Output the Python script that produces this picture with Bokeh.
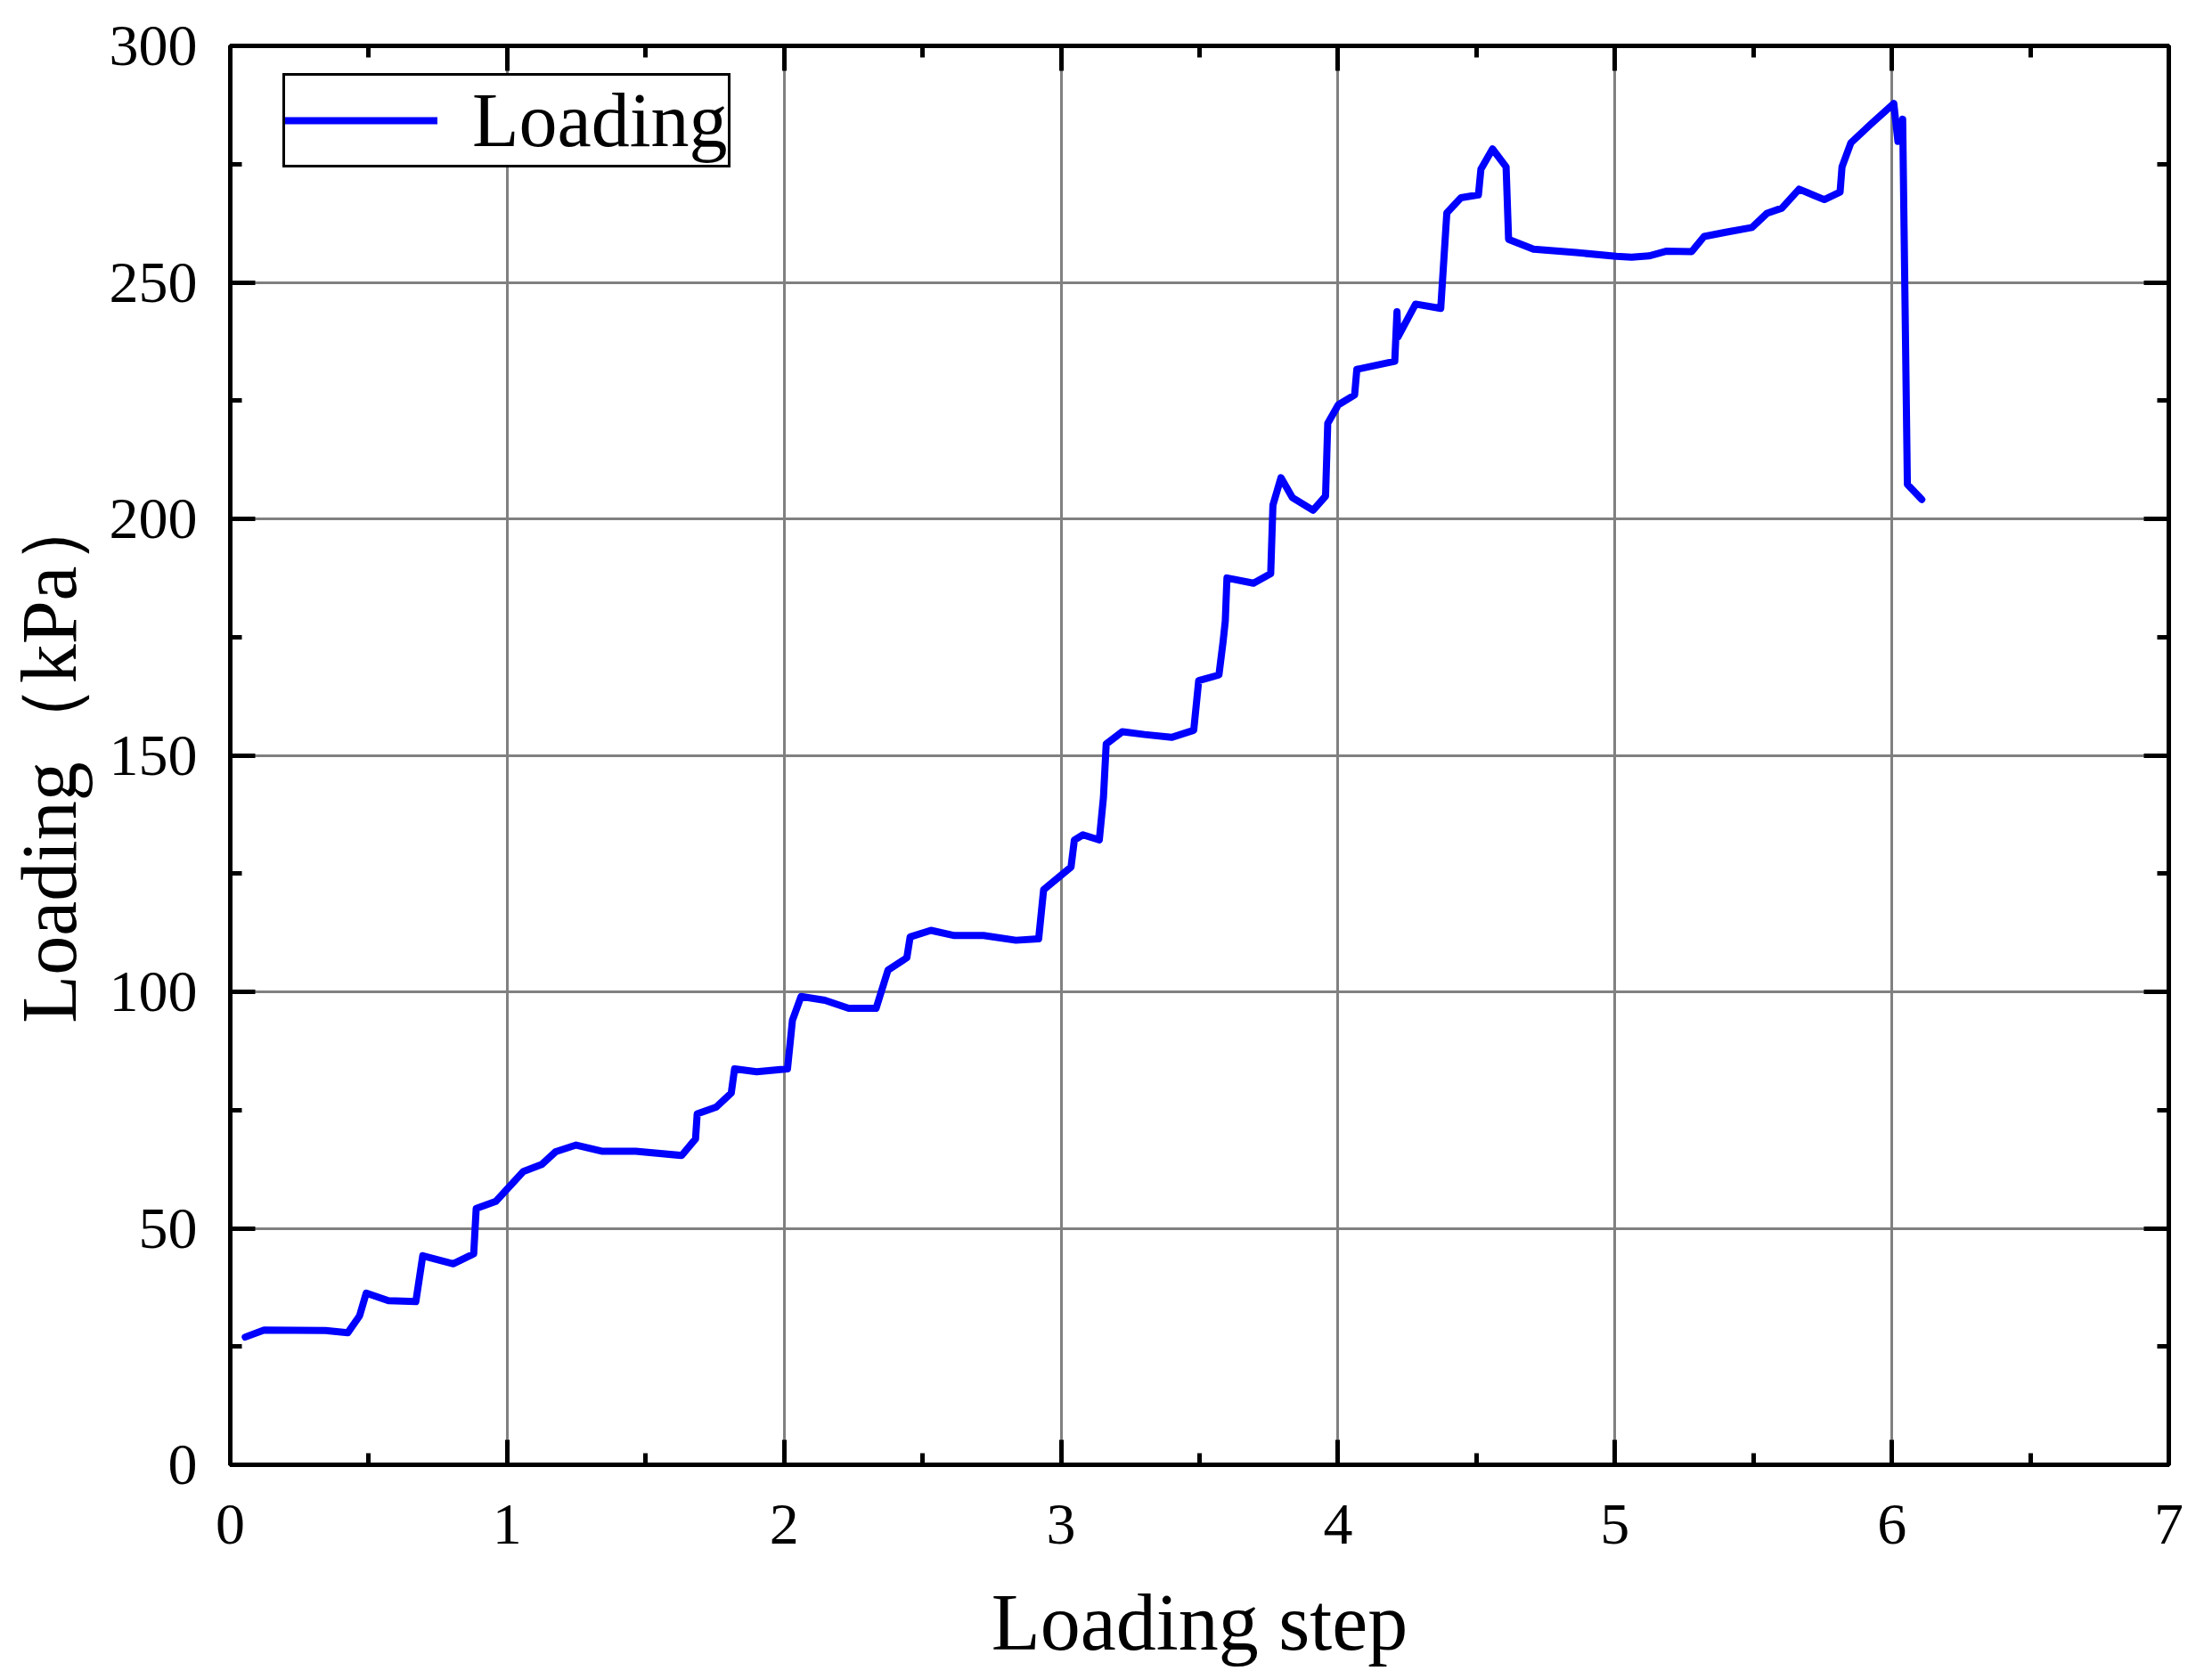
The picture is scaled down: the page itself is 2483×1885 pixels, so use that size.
from bokeh.plotting import figure
from bokeh.models import LinearAxis, FixedTicker, Legend, LegendItem, Range1d
from bokeh.embed import file_html
from bokeh.resources import INLINE

# ---- data ----
step = [0.054, 0.122, 0.344, 0.424, 0.467, 0.491, 0.571, 0.670, 0.695, 0.805,
        0.879, 0.888, 0.959, 1.058, 1.125, 1.175, 1.249, 1.341, 1.464, 1.630,
        1.680, 1.686, 1.754, 1.809, 1.821, 1.901, 2.012, 2.030, 2.061, 2.147,
        2.233, 2.332, 2.375, 2.443, 2.455, 2.530, 2.615, 2.720, 2.837, 2.919,
        2.937, 3.036, 3.048, 3.079, 3.138, 3.153, 3.163, 3.221, 3.301, 3.399,
        3.479, 3.497, 3.570, 3.585, 3.593, 3.599, 3.695, 3.757, 3.765, 3.794,
        3.835, 3.910, 3.955, 3.963, 4.001, 4.060, 4.068, 4.205, 4.213, 4.216,
        4.280, 4.371, 4.393, 4.444, 4.507, 4.516, 4.558, 4.607, 4.616, 4.706,
        4.860, 5.005, 5.060, 5.123, 5.187, 5.277, 5.322, 5.400, 5.495, 5.549,
        5.603, 5.665, 5.756, 5.813, 5.820, 5.852, 5.925, 6.007, 6.022, 6.039,
        6.056, 6.108]
load = [27.0, 28.5, 28.4, 27.9, 31.5, 36.3, 34.7, 34.5, 44.2, 42.5,
        44.6, 54.2, 55.7, 62.0, 63.5, 66.2, 67.6, 66.3, 66.3, 65.4,
        68.9, 74.2, 75.6, 78.6, 83.7, 83.1, 83.7, 94.0, 99.0, 98.2,
        96.5, 96.5, 104.6, 107.2, 111.6, 113.0, 111.9, 111.9, 110.9, 111.2,
        121.6, 126.4, 132.1, 133.2, 132.1, 141.1, 152.4, 155.0, 154.4, 153.8,
        155.3, 165.8, 167.0, 174.0, 178.4, 187.5, 186.4, 188.4, 202.9, 208.7,
        204.5, 201.8, 204.8, 220.2, 224.1, 226.2, 231.6, 233.3, 243.8, 238.4,
        245.4, 244.5, 264.7, 267.9, 268.5, 273.9, 278.2, 274.4, 259.1, 257.0,
        256.3, 255.5, 255.3, 255.6, 256.6, 256.5, 259.7, 260.6, 261.6, 264.6,
        265.7, 269.7, 267.5, 269.1, 274.4, 279.5, 283.5, 287.8, 279.8, 284.5,
        207.3, 204.1]

x_ticks = [0, 1, 2, 3, 4, 5, 6, 7]
y_ticks = [0, 50, 100, 150, 200, 250, 300]
x_minor = [0.5, 1.5, 2.5, 3.5, 4.5, 5.5, 6.5]
y_minor = [25, 75, 125, 175, 225, 275]
series_name = "Loading"
x_title = "Loading step"
y_title = "Loading\uff08kPa\uff09"

FONT = "Liberation Serif"

W, H = 2475, 1877
p = figure(width=W, height=H, output_backend="svg", toolbar_location=None,
           x_range=Range1d(0, 7), y_range=Range1d(0, 300),
           min_border_left=258, min_border_right=W - 2434,
           min_border_top=51, min_border_bottom=H - 1644)
p.background_fill_color = "white"
p.border_fill_color = "white"
p.outline_line_color = "black"
p.outline_line_width = 5

r = p.line(step, load, line_color="#0000FF", line_width=8,
           line_join="round", line_cap="round")

xt = FixedTicker(ticks=x_ticks, minor_ticks=x_minor)
yt = FixedTicker(ticks=y_ticks, minor_ticks=y_minor)

def style_axis(ax, labels=True):
    ax.axis_line_color = "black"
    ax.axis_line_width = 5
    ax.major_tick_line_color = "black"
    ax.major_tick_line_width = 5
    ax.minor_tick_line_color = "black"
    ax.minor_tick_line_width = 5
    ax.major_tick_in = 28
    ax.major_tick_out = 0
    ax.minor_tick_in = 13
    ax.minor_tick_out = 0
    if labels:
        ax.major_label_text_font = FONT
        ax.major_label_text_font_size = "66px"
        ax.major_label_text_color = "black"
        ax.axis_label_text_font = FONT
        ax.axis_label_text_font_size = "88px"
        ax.axis_label_text_font_style = "normal"
        ax.axis_label_text_color = "black"
    else:
        ax.major_label_text_font_size = "0px"
        ax.major_label_standoff = 0

xa = p.xaxis[0]
xa.ticker = xt
style_axis(xa)
xa.axis_label = x_title
xa.axis_label_text_font_size = "90px"
xa.major_label_standoff = 45
xa.axis_label_standoff = 36

ya = p.yaxis[0]
ya.ticker = yt
style_axis(ya)
ya.axis_label = y_title
ya.major_label_standoff = 37
ya.axis_label_standoff = 16

top = LinearAxis(ticker=xt)
style_axis(top, labels=False)
p.add_layout(top, "above")
right = LinearAxis(ticker=yt)
style_axis(right, labels=False)
p.add_layout(right, "right")

p.xgrid.ticker = xt
p.ygrid.ticker = yt
for g in (p.xgrid, p.ygrid):
    g.grid_line_color = "#808080"
    g.grid_line_width = 3

legend = Legend(items=[LegendItem(label=series_name, renderers=[r])],
                location=(59, 1456))
legend.border_line_color = "black"
legend.border_line_width = 3
legend.border_line_alpha = 1
legend.background_fill_color = "white"
legend.background_fill_alpha = 1
legend.padding = 0
legend.margin = 0
legend.spacing = 0
legend.glyph_width = 171
legend.glyph_height = 82
legend.label_height = 82
legend.label_standoff = 39
legend.label_text_font = FONT
legend.label_text_font_size = "86px"
legend.label_text_color = "black"
p.add_layout(legend, "center")

open("out.html", "w").write(file_html(p, INLINE))
